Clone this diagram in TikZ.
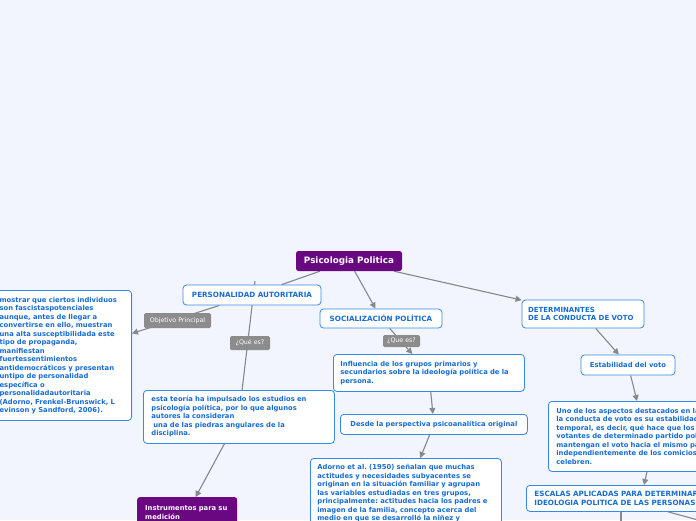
\documentclass[tikz,border=0pt]{standalone}
\usepackage{fontspec}
\setmainfont{DejaVu Sans}
\usepackage{xcolor}
\usetikzlibrary{arrows.meta}
\definecolor{mapblue}{RGB}{52,138,232}
\definecolor{maptext}{RGB}{22,108,212}
\definecolor{mappurple}{RGB}{106,8,130}
\definecolor{maptag}{RGB}{140,140,140}
\definecolor{mapline}{RGB}{135,135,140}
\definecolor{mapbg}{RGB}{242,245,253}
\pgfdeclarelayer{lines}
\pgfsetlayers{lines,main}
\frenchspacing
\tikzset{
    topic-box/.style = {draw=mapblue, fill=white, line width=0.8pt, rectangle, rounded corners=3.5pt, text=maptext, font=\bfseries\fontsize{6.8}{8.5}\selectfont, align=left, inner xsep=8pt, inner ysep=0pt},
    caps-box/.style = {topic-box, font=\bfseries\fontsize{7.2}{8.5}\selectfont},
    root-box/.style = {fill=mappurple, text=white, rectangle, rounded corners=2.5pt, font=\bfseries\fontsize{8.8}{10}\selectfont, inner sep=0pt},
    label-tag/.style = {fill=maptag, text=white, rectangle, rounded corners=1.5pt, font=\fontsize{6.3}{7}\selectfont, inner sep=0pt},
    link-line/.style = {draw=mapline, line width=1.1pt},
    link-arrow/.style = {link-line, -{Triangle[length=6pt,width=6pt]}},
}
\begin{document}
\begin{tikzpicture}[x=1pt, y=-1pt]
\useasboundingbox (0,0) rectangle (696,520);
\node[root-box, minimum width=106pt, minimum height=20pt] (root) at (349,261) {Psicologia Politica};
\node[caps-box, text width=124pt, inner xsep=7pt, align=center, minimum height=20pt] (autoritaria) at (252,295) {PERSONALIDAD AUTORITARIA};
\node[caps-box, text width=110pt, inner xsep=6pt, align=center, minimum height=19pt] (socializacion) at (381,318.5) {SOCIALIZACIÓN POLÍTICA};
\node[caps-box, font=\bfseries\fontsize{7}{8.5}\selectfont, text width=110pt, inner xsep=6pt, minimum height=28pt] (determinantes) at (583,314) {DETERMINANTES\\DE LA CONDUCTA DE VOTO};
\node[topic-box, text width=127pt, inner xsep=5pt, minimum height=130pt, anchor=north east] (objetivo) at (132,290) {mostrar que ciertos individuos\\son fascistaspotenciales\\aunque, antes de llegar a\\convertirse en ello, muestran\\una alta susceptibilidada este\\tipo de propaganda,\\manifiestan\\fuertessentimientos\\antidemocráticos y presentan\\untipo de personalidad\\específica o\\personalidadautoritaria\\(Adorno, Frenkel-Brunswick, L\\evinson y Sandford, 2006).};
\node[topic-box, text width=175pt, minimum height=53pt, anchor=north west] (teoria) at (143,390) {esta teoría ha impulsado los estudios en\\psicología política, por lo que algunos\\autores la consideran\\\hspace*{2pt}una de las piedras angulares de la\\disciplina.};
\node[root-box, font=\bfseries\fontsize{6.8}{8.5}\selectfont, align=left, text width=84pt, inner xsep=8pt, minimum height=31pt, anchor=north west] (instrumentos) at (137,497) {Instrumentos para su\\medición};
\node[topic-box, text width=177pt, inner xsep=7pt, minimum height=37pt, anchor=north west] (influencia) at (333,354) {Influencia de los grupos primarios y\\secundarios sobre la ideología política de la\\persona.};
\node[topic-box, text width=173pt, inner xsep=7pt, align=center, minimum height=20pt, anchor=north west] (desde) at (340,414) {Desde la perspectiva psicoanalítica original};
\node[topic-box, text width=177pt, inner xsep=7pt, inner ysep=6pt, anchor=north west] (adorno) at (310,458) {Adorno et al. (1950) señalan que muchas\\actitudes y necesidades subyacentes se\\originan en la situación familiar y agrupan\\las variables estudiadas en tres grupos,\\principalmente: actitudes hacia los padres e\\imagen de la familia, concepto acerca del\\medio en que se desarrolló la niñez y};
\node[topic-box, text width=80pt, inner xsep=7pt, align=center, minimum height=20pt] (estabilidad) at (628,365) {Estabilidad del voto};
\node[topic-box, text width=200pt, minimum height=70pt, anchor=north west] (uno) at (548,401) {Uno de los aspectos destacados en la\\la conducta de voto es su estabilidad\\temporal, es decir, qué hace que los\\votantes de determinado partido político\\mantengan el voto hacia el mismo partido\\independientemente de los comicios que se\\celebren.};
\node[caps-box, text width=240pt, minimum height=26pt, anchor=north west] (escalas) at (526,485) {ESCALAS APLICADAS PARA DETERMINAR\\IDEOLOGIA POLITICA DE LAS PERSONAS};
\node[label-tag, minimum width=67pt, minimum height=15pt] (tag-objetivo) at (177.5,320.5) {Objetivo Principal};
\node[label-tag, minimum width=40pt, minimum height=14pt] (tag-que) at (250,343) {¿Qué es?};
\node[label-tag, minimum width=37pt, minimum height=12pt] (tag-que-soc) at (401.5,341) {¿Que es?};
\coordinate (autoritaria-tick) at (255,281);
\coordinate (escalas-a) at (621,540);
\coordinate (escalas-b) at (720,526);
\begin{pgfonlayer}{lines}
\fill[mapbg] (0,0) rectangle (696,520);
\draw[link-line] (root) -- (autoritaria);
\draw[link-arrow] (root) -- (socializacion);
\draw[link-arrow] (root) -- (determinantes);
\draw[link-arrow] (autoritaria) -- (objetivo);
\draw[link-line] (autoritaria-tick) -- (teoria);
\draw[link-arrow] (teoria) -- (instrumentos);
\draw[link-arrow] (socializacion) -- (influencia);
\draw[link-arrow] (influencia) -- (desde);
\draw[link-arrow] (desde) -- (adorno);
\draw[link-arrow] (determinantes) -- (estabilidad);
\draw[link-arrow] (estabilidad) -- ([xshift=89pt]uno.north west);
\draw[link-arrow] ([xshift=99pt]uno.south west) -- ([xshift=118pt]escalas.north west);
\draw[link-line] ([xshift=95pt]escalas.south west) -- (escalas-a);
\draw[link-line] ([xshift=142pt]escalas.south west) -- (escalas-b);
\end{pgfonlayer}
\end{tikzpicture}
\end{document}
